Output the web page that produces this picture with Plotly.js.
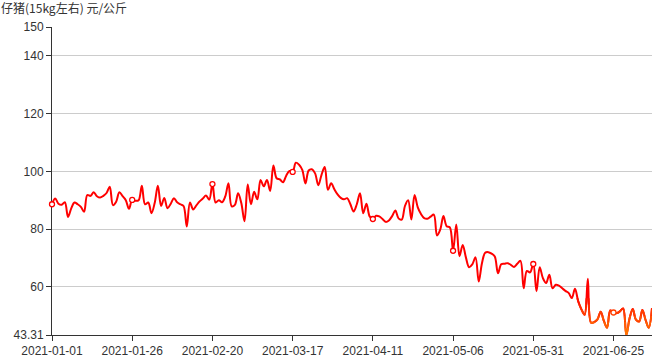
<!DOCTYPE html>
<html>
<head>
<meta charset="utf-8">
<script src="https://cdn.plot.ly/plotly-3.0.1.min.js"></script>
<style>html,body{margin:0;padding:0;background:#fff;}#chart{width:655px;height:357px;}</style>
</head>
<body>
<div id="chart"></div>
<script>
// ---- data ----
const startDate = '2021-01-01';
const dayCount = 188;
const prices = [
  88.6, 90.6, 88.8, 88.4, 89.3, 84.2, 87.2, 89.2, 88.6, 87.7,
  86.0, 91.8, 91.5, 92.8, 91.4, 90.9, 91.5, 92.5, 94.7, 88.3,
  89.5, 92.8, 91.4, 90.0, 87.0, 90.1, 89.8, 90.0, 95.0, 88.6,
  89.2, 85.5, 89.0, 95.0, 88.0, 90.8, 87.2, 88.8, 90.7, 89.3,
  88.6, 88.0, 80.9, 89.2, 86.8, 88.2, 89.6, 90.6, 91.6, 90.2,
  95.6, 89.2, 90.0, 89.3, 91.3, 95.9, 87.9, 88.4, 92.4, 89.0,
  82.7, 95.4, 88.6, 92.9, 90.3, 97.0, 94.8, 97.0, 93.2, 102.0,
  97.6, 97.2, 96.2, 98.5, 100.1, 99.8, 103.0, 102.3, 100.5, 95.8,
  100.3, 100.7, 99.3, 95.2, 98.8, 101.5, 93.6, 95.9, 93.8, 92.0,
  90.8, 90.3, 90.7, 88.6, 86.1, 88.6, 92.4, 85.5, 88.8, 84.4,
  83.5, 84.6, 84.4, 83.5, 82.5, 83.0, 84.5, 86.4, 83.7, 83.3,
  88.0, 90.0, 83.3, 91.8, 87.5, 85.2, 83.8, 83.6, 84.3, 85.0,
  77.8, 79.8, 84.5, 81.0, 80.6, 72.5, 81.6, 70.6, 74.5, 70.2,
  66.8, 67.8, 70.2, 61.8, 68.2, 71.8, 72.0, 71.5, 70.5, 64.7,
  67.8, 68.0, 68.2, 67.6, 66.9, 68.0, 69.0, 59.5, 65.5, 65.0,
  67.9, 58.5, 66.8, 63.0, 61.3, 64.2, 59.5, 60.7, 60.4, 59.5,
  58.6, 57.9, 56.1, 59.3, 55.0, 52.2, 50.3, 62.8, 47.6, 47.8,
  48.7, 51.4, 48.2, 45.8, 51.8, 51.1, 50.9, 51.5, 52.5, 43.31,
  49.0, 52.3, 48.6, 48.0, 52.0, 48.5, 45.8, 52.6
];
const xTickLabels = ['2021-01-01','2021-01-26','2021-02-20','2021-03-17','2021-04-11','2021-05-06','2021-05-31','2021-06-25'];
const yTickVals = [43.31, 60, 80, 100, 120, 140, 150];
const yTickText = ['43.31', '60', '80', '100', '120', '140', '150'];
const yTitle = '仔猪(15kg左右) 元/公斤';

// ---- categories (daily) ----
const dates = [];
for (let i = 0; i < dayCount; i++) {
  const d = new Date(startDate + 'T00:00:00Z');
  d.setUTCDate(d.getUTCDate() + i);
  dates.push(d.toISOString().slice(0, 10));
}

// ---- styling ----
const Y0 = yTickVals[0], Y1 = yTickVals[yTickVals.length - 1];
const bands = [
  {lo: Y0, hi: 46, color: '#ff7400'},
  {lo: 46, hi: 48, color: '#ff6400'},
  {lo: 48, hi: 50, color: '#ff5300'},
  {lo: 50, hi: 52, color: '#ff3f00'},
  {lo: 52, hi: 54, color: '#ff2a00'},
  {lo: 54, hi: 56, color: '#ff1400'}
];
function colorFor(v) {
  for (const b of bands) if (v >= b.lo && v < b.hi) return b.color;
  return '#ff0000';
}
const lineStyle = {shape: 'spline', smoothing: 1, width: 2, simplify: false};
const tickFont = {family: '"Liberation Sans", Arial, sans-serif', size: 12, color: '#333'};

const traces = [];
traces.push({x: dates, y: prices, type: 'scatter', mode: 'lines', xaxis: 'x', yaxis: 'y',
  line: Object.assign({color: '#ff0000'}, lineStyle), hoverinfo: 'skip'});

const layout = {
  width: 655, height: 357,
  margin: {l: 52, r: 3, t: 27, b: 22, pad: 0},
  paper_bgcolor: '#ffffff', plot_bgcolor: 'rgba(0,0,0,0)',
  showlegend: false,
  font: {family: '"Liberation Sans", "Noto Sans CJK SC", sans-serif', size: 12, color: '#333'},
  xaxis: {
    type: 'category', range: [0, dayCount - 1], autorange: false,
    tickmode: 'array', tickvals: xTickLabels, ticktext: xTickLabels,
    ticks: 'outside', ticklen: 5, tickwidth: 1, tickcolor: '#333',
    showline: true, linecolor: '#333', linewidth: 1,
    showgrid: false, zeroline: false,
    tickfont: tickFont, fixedrange: true
  },
  yaxis: {
    range: [Y0, Y1], autorange: false,
    tickmode: 'array', tickvals: yTickVals, ticktext: yTickText,
    ticks: 'outside', ticklen: 5, tickwidth: 1, tickcolor: '#333',
    showline: true, linecolor: '#333', linewidth: 1,
    showgrid: true, gridcolor: '#cccccc', gridwidth: 1, zeroline: false,
    tickfont: tickFont, fixedrange: true
  },
  annotations: [{
    text: yTitle, xref: 'paper', yref: 'paper',
    x: -52 / 600, y: 1 + (27 - 7.5) / 308, xanchor: 'left', yanchor: 'middle',
    showarrow: false, borderpad: 0,
    font: {family: '"Noto Sans CJK SC", sans-serif', size: 12, color: '#333'}
  }]
};

// colour bands: each drawn in its own clipped strip with matching scale
bands.forEach((b, k) => {
  const id = k + 2;
  layout['yaxis' + id] = {
    domain: [(b.lo - Y0) / (Y1 - Y0), (b.hi - Y0) / (Y1 - Y0)],
    range: [b.lo, b.hi], autorange: false, anchor: 'x', visible: false, fixedrange: true
  };
  traces.push({x: dates, y: prices, type: 'scatter', mode: 'lines', xaxis: 'x', yaxis: 'y' + id,
    line: Object.assign({color: b.color}, lineStyle), hoverinfo: 'skip'});
});

// symbols at the labelled categories, on a top full-height layer
const topId = bands.length + 2;
layout['yaxis' + topId] = {domain: [0, 1], range: [Y0, Y1], autorange: false, anchor: 'x', visible: false, fixedrange: true};
const symY = xTickLabels.map(t => prices[dates.indexOf(t)]);
traces.push({x: xTickLabels, y: symY, type: 'scatter', mode: 'markers', xaxis: 'x', yaxis: 'y' + topId,
  marker: {symbol: 'circle', size: 5, color: '#ffffff', line: {color: symY.map(colorFor), width: 1.3}},
  cliponaxis: false, hoverinfo: 'skip'});

Plotly.newPlot('chart', traces, layout, {displayModeBar: false, staticPlot: true});
</script>
</body>
</html>
